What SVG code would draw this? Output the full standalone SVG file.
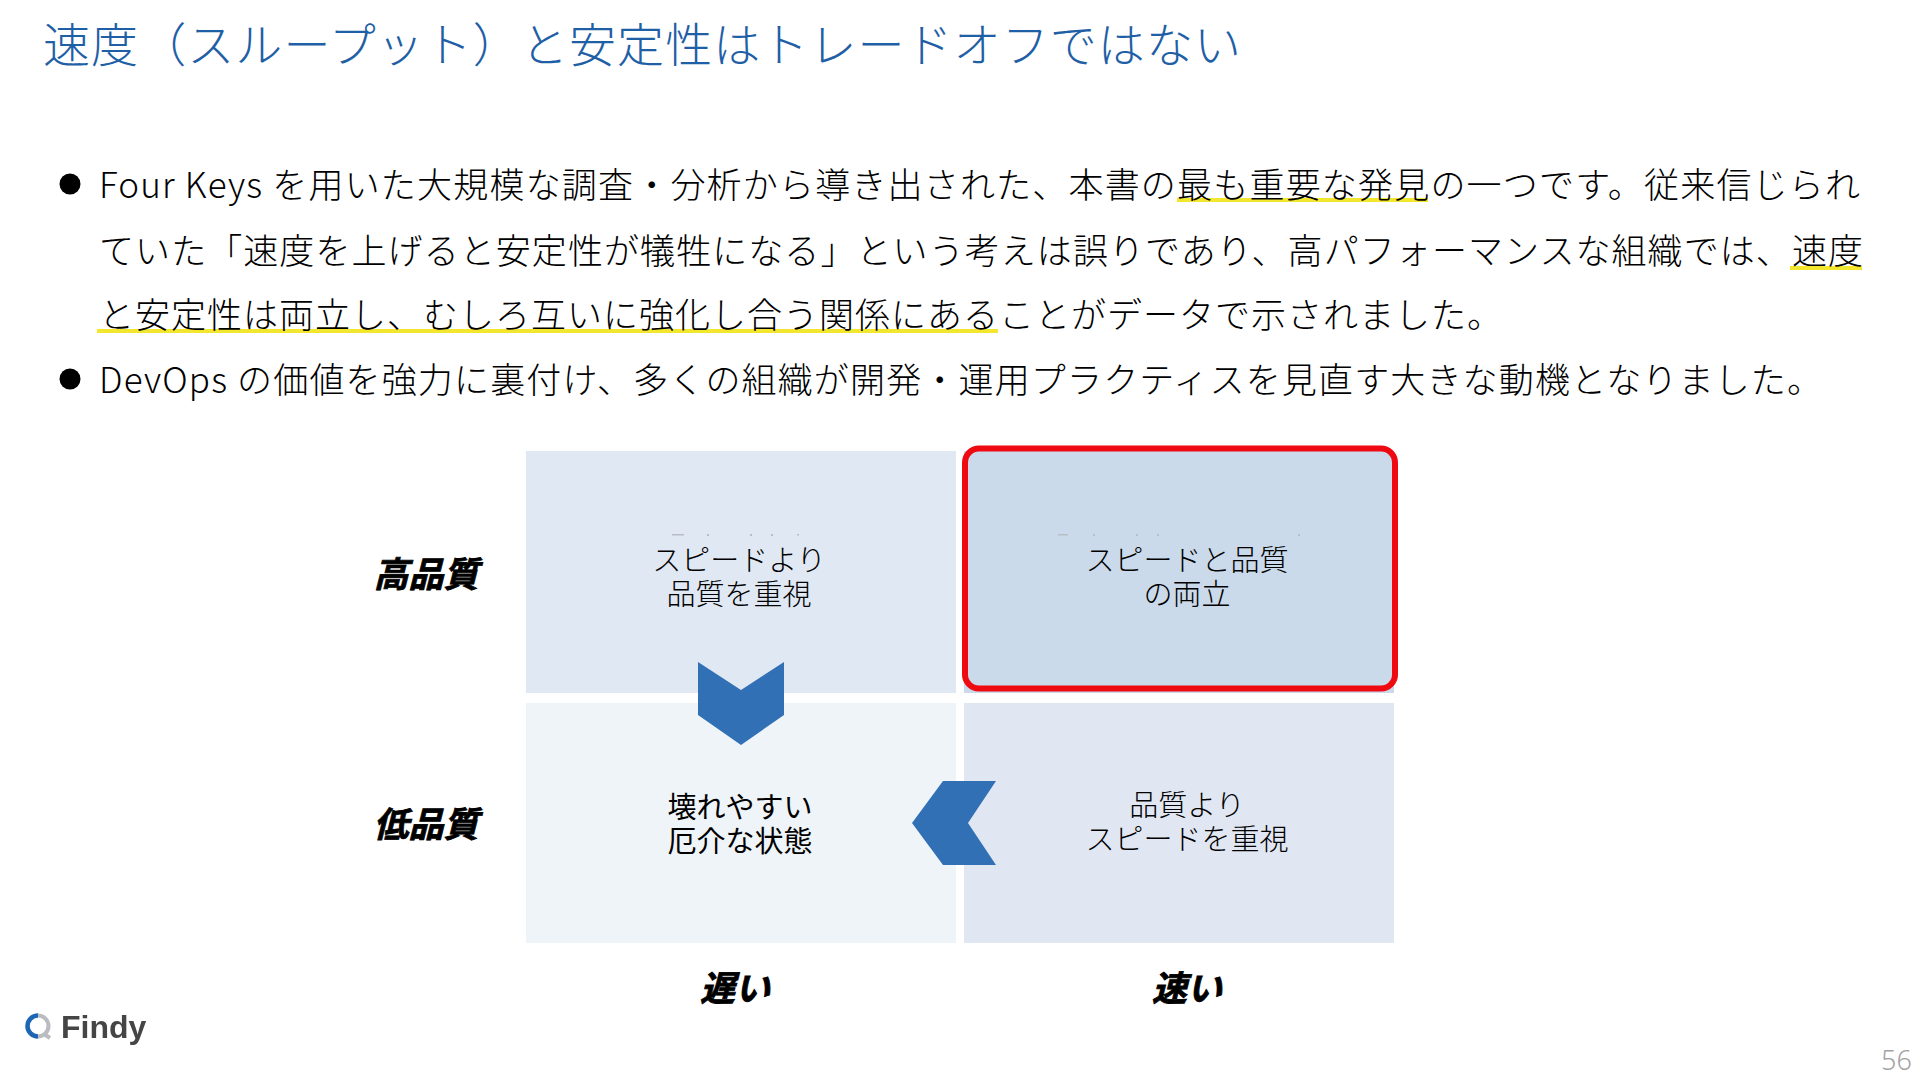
<svg xmlns="http://www.w3.org/2000/svg" width="1920" height="1080" viewBox="0 0 1920 1080">
<defs>
<style>
text{font-family:"Noto Sans CJK JP","Noto Sans",sans-serif}
.title{font-size:47px;font-weight:300;fill:#1F5FA6}
.body{font-size:35px;font-weight:300;fill:#000}
.cell{font-size:29px;font-weight:300;fill:#000;text-anchor:middle}
.cellb{font-size:29px;font-weight:400;fill:#000;text-anchor:middle}
.axis{font-size:35px;font-weight:700;font-style:italic;fill:#000;text-anchor:middle;stroke:#000;stroke-width:.8}
.ul{fill:#F2E62E}
.speck{fill:#b8bec6}
.chev{fill:#3170B5}
</style>
<filter id="soft"><feGaussianBlur stdDeviation="0.5"/></filter>
</defs>
<rect width="1920" height="1080" fill="#fff"/>
<g id="title"><text class="title" x="43" y="62" textLength="1198" lengthAdjust="spacing">速度（スループット）と安定性はトレードオフではない</text></g>
<g id="underlines">
<rect class="ul" x="1177" y="198" width="251" height="4"/>
<rect class="ul" x="1790" y="266" width="72" height="4"/>
<rect class="ul" x="97" y="329" width="901" height="4"/>
</g>
<g id="body">
<circle cx="70" cy="184" r="10.500" fill="#000"/>
<circle cx="70" cy="379" r="10.500" fill="#000"/>
<text class="body" x="99" y="198" textLength="1761" lengthAdjust="spacing">Four Keys を用いた大規模な調査・分析から導き出された、本書の最も重要な発見の一つです。従来信じられ</text>
<text class="body" x="99" y="264" textLength="1764" lengthAdjust="spacing">ていた「速度を上げると安定性が犠牲になる」という考えは誤りであり、高パフォーマンスな組織では、速度</text>
<text class="body" x="99" y="328" textLength="1403" lengthAdjust="spacing">と安定性は両立し、むしろ互いに強化し合う関係にあることがデータで示されました。</text>
<text class="body" x="99" y="393" textLength="1723" lengthAdjust="spacing">DevOps の価値を強力に裏付け、多くの組織が開発・運用プラクティスを見直す大きな動機となりました。</text>
</g>
<g id="cell-top-left">
<rect x="526" y="451" width="430" height="242" fill="#E0E8F3"/>
<g class="speck"><rect x="672" y="534" width="12" height="1.500"/><rect x="707" y="534" width="2" height="2"/><rect x="750" y="534" width="2" height="2"/><rect x="771" y="534" width="2" height="2"/><rect x="797" y="534" width="2" height="1.500"/></g>
<text class="cell" y="571"><tspan x="739">スピードより</tspan><tspan x="739" dy="34">品質を重視</tspan></text>
</g>
<g id="cell-top-right">
<rect x="964" y="451" width="430" height="242" fill="#CBDAEA"/>
<rect x="965" y="448.500" width="430" height="240" rx="14" ry="14" fill="none" stroke="#EE0A10" stroke-width="6"/>
<g class="speck"><rect x="1058" y="534" width="10" height="1.500"/><rect x="1093" y="534" width="2" height="2"/><rect x="1136" y="534" width="2" height="2"/><rect x="1157" y="534" width="2" height="2"/><rect x="1298" y="534" width="2" height="2"/></g>
<text class="cell" y="571"><tspan x="1187">スピードと品質</tspan><tspan x="1187" dy="34">の両立</tspan></text>
</g>
<g id="cell-bottom-left">
<rect x="526" y="703" width="430" height="240" fill="#EFF4F9"/>
<text class="cellb" y="818"><tspan x="740">壊れやすい</tspan><tspan x="740" dy="34">厄介な状態</tspan></text>
</g>
<g id="cell-bottom-right">
<rect x="964" y="703" width="430" height="240" fill="#E0E7F3"/>
<text class="cell" y="816"><tspan x="1187">品質より</tspan><tspan x="1187" dy="34">スピードを重視</tspan></text>
</g>
<g id="connectors">
<polygon class="chev" points="698,662 741,690 784,662 784,715 741,745 698,715"/>
<polygon class="chev" points="996,781 968,823 996,865 943,865 912,823 943,781"/>
</g>
<g id="axis-labels">
<text class="axis" x="426" y="587">高品質</text>
<text class="axis" x="426" y="837">低品質</text>
<text class="axis" x="735" y="1001">遅い</text>
<text class="axis" x="1187" y="1001">速い</text>
</g>
<g id="logo" filter="url(#soft)">
<path d="M38 1015.500 A10.500 10.500 0 0 0 38 1036.500" fill="none" stroke="#1F66B5" stroke-width="4.500"/>
<path d="M38 1015.500 A10.500 10.500 0 0 1 38 1036.500 M44 1034 L50 1038" fill="none" stroke="#B9BCC0" stroke-width="4"/>
<text x="61" y="1038" font-size="32" font-weight="700" fill="#444" style="font-family:'Liberation Sans',sans-serif">Findy</text>
</g>
<g id="page-number"><text x="1881" y="1070" font-size="27" font-weight="300" fill="#A3A3A3" style="font-family:'Noto Sans',sans-serif">56</text></g>
</svg>
